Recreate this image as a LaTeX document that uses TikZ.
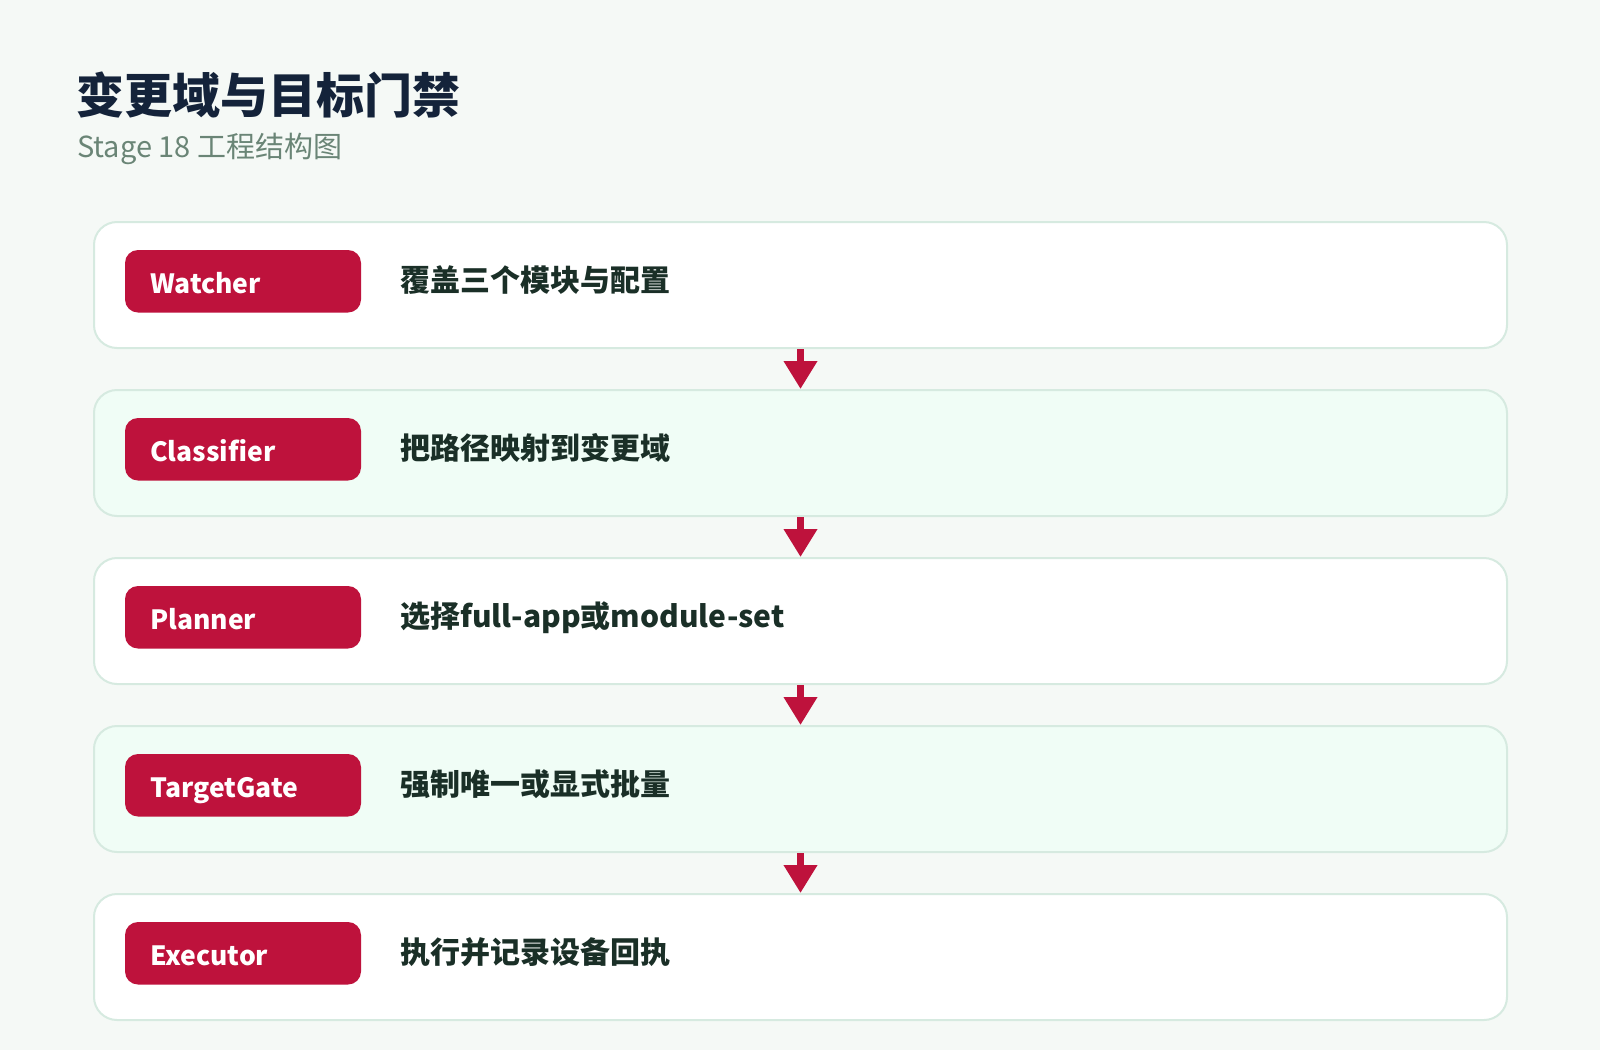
\documentclass[tikz,border=0pt]{standalone}
\usepackage{fontspec}
\setmainfont{Noto Sans CJK SC}
\usetikzlibrary{arrows.meta}
\definecolor{pagebg}{HTML}{F5F9F6}
\definecolor{cardline}{HTML}{D6EAE0}
\definecolor{cardmint}{HTML}{F0FDF6}
\definecolor{crimson}{HTML}{BE123C}
\definecolor{titlecol}{HTML}{14233A}
\definecolor{subcol}{HTML}{6A8576}
\definecolor{itemcol}{HTML}{1A2F27}
\tikzset{
  card/.style={draw=cardline, line width=2pt, rounded corners=23pt,
    minimum width=1413pt, minimum height=126pt, inner sep=0pt},
  badge/.style={fill=crimson, rounded corners=13pt, minimum width=236pt,
    minimum height=62.5pt, inner sep=0pt},
  badgetext/.style={anchor=base west, inner sep=0pt, text=white,
    font=\fontsize{26.5}{30}\selectfont\bfseries},
  itemtext/.style={anchor=base west, inner sep=0pt, text=itemcol,
    font=\fontsize{30}{34}\selectfont\bfseries},
  flow/.style={draw=crimson, line width=7pt,
    -{Triangle[width=32pt,length=28pt]}},
}
\begin{document}
\begin{tikzpicture}[x=1pt,y=-1pt]
\useasboundingbox (0,0) rectangle (1600,1050);
\fill[pagebg] (0,0) rectangle (1600,1050);
\node[anchor=base west, inner sep=0pt, text=titlecol,
  font=\fontsize{48}{52}\selectfont\bfseries] (title) at (76,113) {变更域与目标门禁};
\node[anchor=base west, inner sep=0pt, text=subcol,
  font=\fontsize{29}{33}\selectfont] (subtitle) at (77,157) {Stage 18 工程结构图};
\foreach \i/\name/\txt/\col in {
  0/Watcher/覆盖三个模块与配置/white,
  1/Classifier/把路径映射到变更域/cardmint,
  2/Planner/选择full-app或module-set/white,
  3/TargetGate/强制唯一或显式批量/cardmint,
  4/Executor/执行并记录设备回执/white}{
  \pgfmathsetmacro{\yy}{168*\i}
  \node[card, fill=\col] (box\i) at (800.5,285+\yy) {};
  \node[badge] (badge\i) at (243,281.25+\yy) {};
  \node[badgetext] (label\i) at (150,293.5+\yy) {\name};
  \node[itemtext] (desc\i) at (400,291+\yy) {\txt};
}
\draw[flow] (box0.south) -- (box1.north);
\draw[flow] (box1.south) -- (box2.north);
\draw[flow] (box2.south) -- (box3.north);
\draw[flow] (box3.south) -- (box4.north);
\end{tikzpicture}
\end{document}
